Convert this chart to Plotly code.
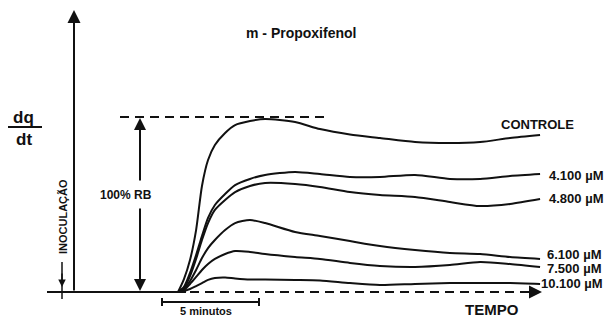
import plotly.graph_objects as go

# ---------------- data (time in minutes, response in % of control peak) -------------
time_min = [5.36, 5.66, 5.97, 6.28, 6.58, 6.89, 7.24, 7.76, 8.27, 9.03, 9.80,
            11.33, 12.60, 14.13, 15.66, 17.45, 19.23, 20.77, 22.30, 23.83]

controle = [0, 7.4, 18.3, 35.4, 60.6, 75.4, 84.0, 90.9, 95.4, 97.7, 98.9,
            97.1, 93.1, 90.0, 88.0, 85.7, 85.1, 85.7, 88.0, 89.7]
c_4100 = [0, 2.9, 10.9, 21.1, 32.0, 42.3, 49.7, 56.0, 61.1, 64.6, 66.9,
          68.6, 67.4, 65.7, 65.7, 66.9, 64.6, 64.6, 66.3, 67.4]
c_4800 = [0, 2.3, 9.1, 18.9, 29.7, 39.4, 46.9, 52.6, 57.1, 60.6, 62.3,
          61.7, 60.0, 57.1, 55.4, 54.3, 51.4, 49.1, 50.3, 53.1]
c_6100 = [0, 1.7, 6.3, 12.6, 19.4, 25.1, 29.7, 35.4, 39.4, 41.1, 39.4,
          34.3, 32.0, 29.1, 26.3, 24.0, 22.3, 21.7, 20.0, 18.9]
c_7500 = [0, 1.1, 4.6, 8.6, 12.6, 16.0, 18.9, 21.7, 23.4, 22.9, 21.7,
          20.0, 18.9, 16.6, 14.9, 14.3, 15.4, 17.1, 16.0, 14.3]
c_10100 = [0, 0.6, 1.7, 3.4, 5.1, 6.9, 8.0, 8.3, 7.7, 7.1, 7.1,
           6.9, 6.6, 5.1, 4.0, 4.6, 5.1, 5.1, 5.1, 4.6]

series_labels = ["CONTROLE", "4.100 µM", "4.800 µM", "6.100 µM", "7.500 µM", "10.100 µM"]
series_values = [controle, c_4100, c_4800, c_6100, c_7500, c_10100]

title_text = "m - Propoxifenol"
x_label = "TEMPO"
inoc_label = "INOCULAÇÃO"
rb_label = "100% RB"
scale_label = "5 minutos"

# ---------------- layout helpers (pixel -> paper) ----------------
W, H = 613, 318
def PX(x):
    return x / W
def PY(y):
    return 1 - y / H

FONT = "Liberation Sans"
BLACK = "#111111"

fig = go.Figure()
for lab, vals in zip(series_labels, series_values):
    fig.add_trace(go.Scatter(x=time_min, y=vals, mode="lines", name=lab,
                             line=dict(color=BLACK, width=2, shape="spline", smoothing=0.7),
                             showlegend=False, hoverinfo="skip"))

shapes = []
def seg(x0, y0, x1, y1, dash="solid", w=2):
    shapes.append(dict(type="line", xref="paper", yref="paper",
                       x0=PX(x0), y0=PY(y0), x1=PX(x1), y1=PY(y1),
                       line=dict(color=BLACK, width=w, dash=dash)))

# solid baseline before growth
seg(47, 292, 186, 292)
# dashed baseline (time axis)
seg(190, 292, 533, 292, dash="9px,6px")
# top dashed reference line (100 %)
seg(120, 117, 330, 117, dash="9px,6px")
# dq/dt fraction bar
seg(8, 127, 42, 127, w=2)
# 5 minutes scale bar
seg(162, 302, 259, 302)
seg(162, 298, 162, 306)
seg(259, 298, 259, 306)
# inoculation mark
seg(62, 262, 62, 299, w=1.5)

annotations = []
def arrow(xh, yh, xt, yt, size=1.0, w=2):
    annotations.append(dict(xref="paper", yref="paper", x=PX(xh), y=PY(yh),
                            ax=xt - xh, ay=yt - yh, axref="pixel", ayref="pixel",
                            text="", showarrow=True, arrowhead=2, arrowsize=size,
                            arrowwidth=w, arrowcolor=BLACK, standoff=0, startstandoff=0))

# vertical axis arrow
arrow(74, 10, 74, 292, size=1.3, w=2)
# 100% RB double arrow
arrow(140, 118, 140, 182, size=1.2, w=2)
arrow(140, 291, 140, 207, size=1.2, w=2)
# time axis arrowhead
arrow(542, 292, 530, 292, size=1.3, w=2)
# inoculation arrow
arrow(62, 287, 62, 272, size=1.0, w=1.5)

def text(t, x, y, size, xanchor="center", yanchor="middle", angle=0):
    annotations.append(dict(xref="paper", yref="paper", x=PX(x), y=PY(y), text=t,
                            showarrow=False, xanchor=xanchor, yanchor=yanchor,
                            textangle=angle,
                            font=dict(family=FONT, size=size, color=BLACK, weight="bold")))

text(title_text, 301, 33, 14)
text("dq", 24, 118, 17)
text("dt", 24, 139, 17)
text(rb_label, 126, 195, 12)
text(inoc_label, 63, 217, 11, angle=-90)
text(series_labels[0], 537, 124, 13)
text(series_labels[1], 547, 175, 13, xanchor="left")
text(series_labels[2], 547, 198, 13, xanchor="left")
text(series_labels[3], 545, 254, 13, xanchor="left")
text(series_labels[4], 545, 268, 13, xanchor="left")
text(series_labels[5], 539, 283, 13, xanchor="left")
text(x_label, 492, 309, 15)
text(scale_label, 206, 311, 11)

fig.update_layout(
    width=W, height=H,
    margin=dict(l=0, r=0, t=0, b=0),
    paper_bgcolor="white", plot_bgcolor="white",
    xaxis=dict(range=[-73 / 19.6, (W - 73) / 19.6], visible=False, fixedrange=True),
    yaxis=dict(range=[-(H - 292) / 1.75, 292 / 1.75], visible=False, fixedrange=True),
    shapes=shapes, annotations=annotations,
)

fig.write_html("out.html", config={"displayModeBar": False},
               post_script="document.body.style.margin='0';document.body.style.overflow='hidden';")
